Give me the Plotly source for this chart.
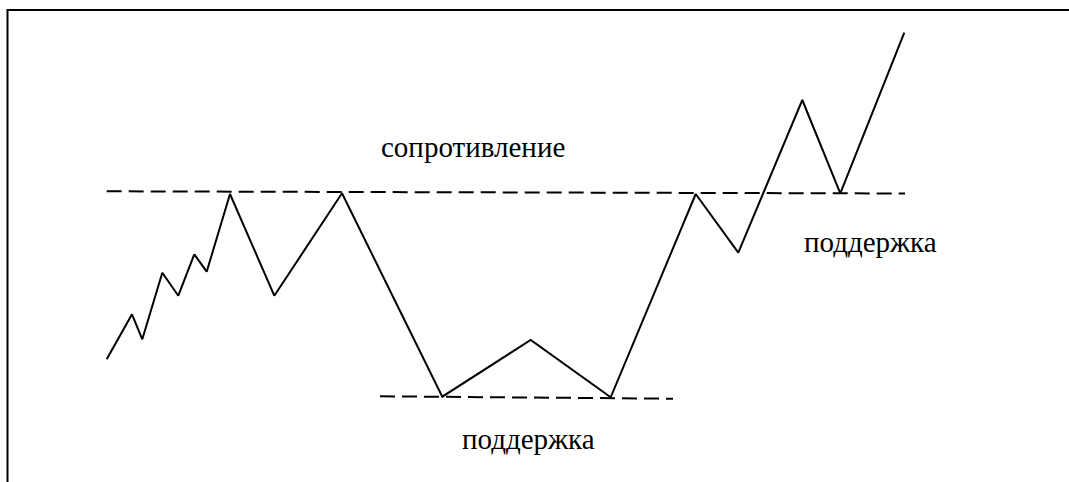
import plotly.graph_objects as go

# Price path (time index, price level)
time = [10.67, 13.2, 14.23, 16.23, 17.83, 19.43, 20.67, 23.0, 27.43, 34.2,
        44.23, 53.07, 61.07, 69.57, 73.83, 80.23, 84.03, 90.43]
price = [12.27, 16.77, 14.27, 20.93, 18.63, 22.77, 21.03, 28.8, 18.63, 28.87,
         8.53, 14.2, 8.47, 28.8, 22.93, 38.2, 28.87, 44.93]

# Horizontal levels: [start time, end time], [start level, end level]
resist_t = [10.67, 90.5]
resist_p = [29.07, 28.85]
support_t = [38.0, 67.3]
support_p = [8.57, 8.33]

labels = ["сопротивление", "поддержка", "поддержка"]
label_t = [47.25, 52.8, 87.0]
label_p = [33.5, 4.3, 24.0]

FONT = "Liberation Serif"

fig = go.Figure()
dash = "15px,7px"
fig.add_trace(go.Scatter(x=resist_t, y=resist_p, mode="lines",
                         line=dict(color="black", width=2, dash=dash),
                         hoverinfo="skip", showlegend=False))
fig.add_trace(go.Scatter(x=support_t, y=support_p, mode="lines",
                         line=dict(color="black", width=2, dash=dash),
                         hoverinfo="skip", showlegend=False))
fig.add_trace(go.Scatter(x=time, y=price, mode="lines",
                         line=dict(color="black", width=2),
                         showlegend=False))

for txt, tx, py in zip(labels, label_t, label_p):
    fig.add_annotation(x=tx, y=py, text=txt, showarrow=False,
                       font=dict(family=FONT, size=29, color="black"),
                       xanchor="center", yanchor="middle")

# Frame: top and left border
fig.add_shape(type="line", xref="paper", yref="paper",
              x0=7.5 / 1069, x1=1.0, y0=1 - 10 / 482, y1=1 - 10 / 482,
              line=dict(color="black", width=2))
fig.add_shape(type="line", xref="paper", yref="paper",
              x0=7.5 / 1069, x1=7.5 / 1069, y0=0, y1=1 - 9 / 482,
              line=dict(color="black", width=2))

fig.update_layout(
    width=1069, height=482,
    margin=dict(l=0, r=0, t=0, b=0),
    paper_bgcolor="white", plot_bgcolor="white",
    xaxis=dict(range=[0, 106.9], visible=False, fixedrange=True),
    yaxis=dict(range=[0, 48.2], visible=False, fixedrange=True),
)
fig.write_html("out.html", config={"displayModeBar": False},
               post_script="document.body.style.margin='0';document.body.style.overflow='hidden';")
